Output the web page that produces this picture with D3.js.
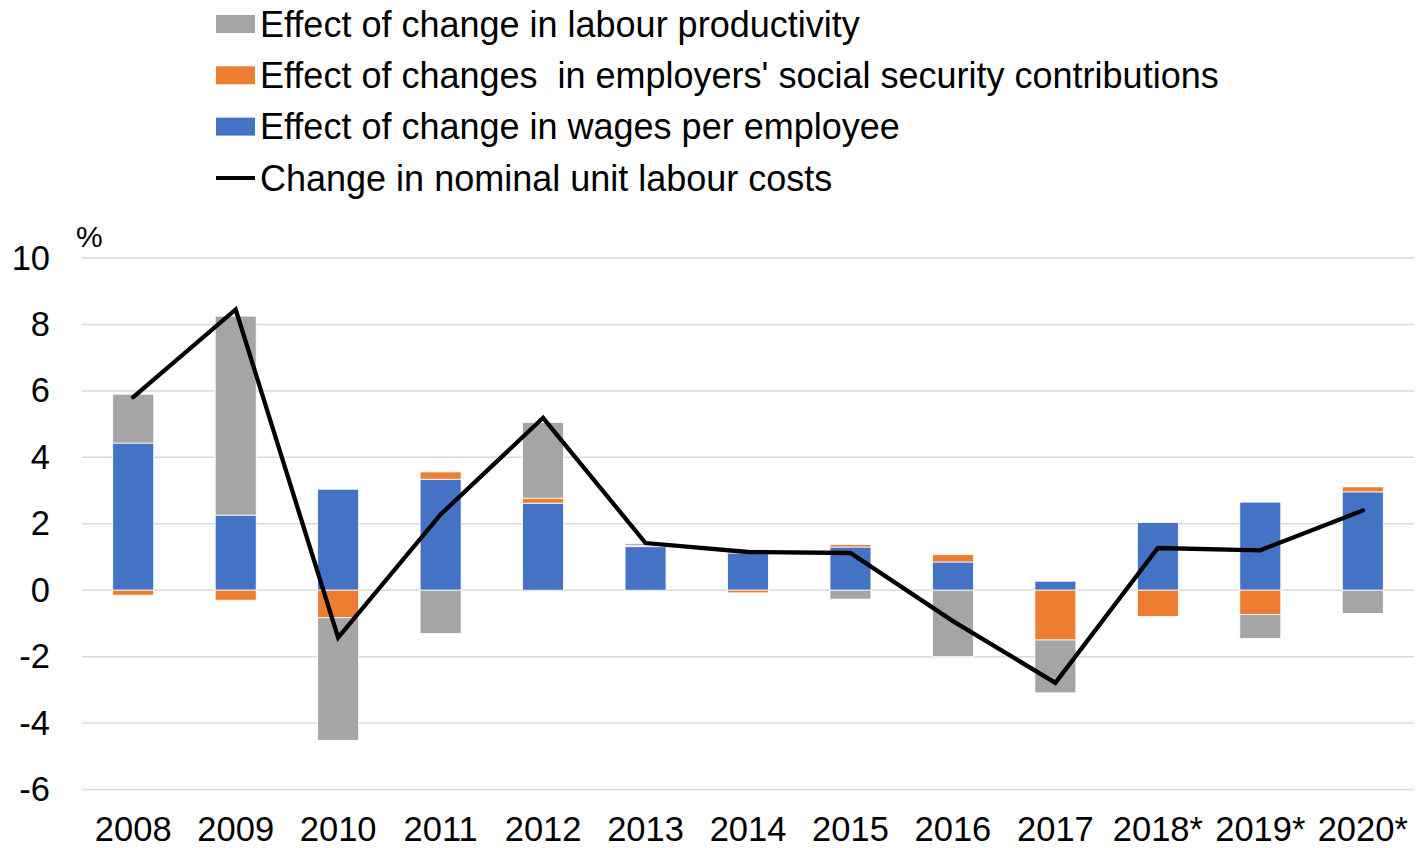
<!DOCTYPE html>
<html>
<head>
<meta charset="utf-8">
<script src="https://cdn.jsdelivr.net/npm/d3@7"></script>
<style>
  body { margin: 0; background: #fff; }
  svg text { font-family: "Liberation Sans", Arial, sans-serif; fill: #000; }
</style>
</head>
<body>
<svg id="chart" width="1416" height="848"></svg>
<script>
// chart data
const years = ["2008", "2009", "2010", "2011", "2012", "2013", "2014", "2015", "2016", "2017", "2018*", "2019*", "2020*"];
const wages = [4.43, 2.26, 3.04, 3.34, 2.62, 1.31, 1.12, 1.30, 0.85, 0.27, 2.04, 2.65, 2.96];
const socialSecurity = [-0.15, -0.30, -0.83, 0.22, 0.15, 0.03, -0.08, 0.07, 0.22, -1.50, -0.79, -0.73, 0.15];
const productivity = [1.47, 5.99, -3.69, -1.30, 2.28, 0.06, 0.10, -0.27, -2.00, -1.59, 0.00, -0.72, -0.70];
const unitLabourCosts = [5.81, 8.45, -1.43, 2.28, 5.19, 1.42, 1.15, 1.12, -0.93, -2.79, 1.27, 1.20, 2.40];
const yTicks = [-6, -4, -2, 0, 2, 4, 6, 8, 10];

const seriesKeys = ["wages", "ssc", "prod"];
const colors = { wages: "#4472c4", ssc: "#ed7d31", prod: "#a5a5a5" };
const legendItems = [
  { label: "Effect of change in labour productivity", type: "rect", color: colors.prod },
  { label: "Effect of changes  in employers' social security contributions", type: "rect", color: colors.ssc },
  { label: "Effect of change in wages per employee", type: "rect", color: colors.wages },
  { label: "Change in nominal unit labour costs", type: "line", color: "#000" }
];

const svg = d3.select("#chart");
const margin = { l: 82, r: 2 };
const W = 1416;
const axisFont = 34.5, legendFont = 36;

const rows = years.map((y, i) => ({ year: y, wages: wages[i], ssc: socialSecurity[i], prod: productivity[i] }));

const x = d3.scaleBand().domain(years).range([margin.l, W - margin.r]).paddingInner(0.6).paddingOuter(0.3);
const y = d3.scaleLinear().domain([-6, 10]).range([789.5, 258]);

// gridlines
svg.append("g").selectAll("line").data(yTicks).enter().append("line")
  .attr("x1", margin.l).attr("x2", W - margin.r)
  .attr("y1", d => y(d)).attr("y2", d => y(d))
  .attr("stroke", "#d9d9d9").attr("stroke-width", 1.5);

// y axis labels (plain hyphen for minus, like the original)
const yAxis = svg.append("g").attr("transform", "translate(50,0)")
  .call(d3.axisLeft(y).tickValues(yTicks).tickSize(0).tickPadding(0).tickFormat(d => String(d)));
yAxis.select(".domain").remove();
yAxis.selectAll("text").attr("font-size", axisFont).attr("font-family", "Liberation Sans, Arial, sans-serif").attr("fill", "#000");

svg.append("text").attr("x", 76).attr("y", 247).attr("font-size", 30).text("%");

// x axis labels
const xAxis = svg.append("g").attr("transform", "translate(0,841)")
  .call(d3.axisBottom(x).tickSize(0).tickPadding(0));
xAxis.select(".domain").remove();
xAxis.selectAll("text").attr("font-size", axisFont).attr("font-family", "Liberation Sans, Arial, sans-serif").attr("fill", "#000").attr("dy", "0");

// stacked bars (diverging so negatives go below zero)
const stack = d3.stack().keys(seriesKeys).offset(d3.stackOffsetDiverging);
const stacked = stack(rows);

svg.append("g").selectAll("g").data(stacked).enter().append("g")
  .attr("fill", d => colors[d.key])
  .selectAll("rect").data(d => d).enter().append("rect")
  .attr("x", d => x(d.data.year))
  .attr("width", x.bandwidth())
  .attr("y", d => y(Math.max(d[0], d[1])))
  .attr("height", d => Math.abs(y(d[0]) - y(d[1])))
  .attr("stroke", "#fff").attr("stroke-width", 0.8);

// unit labour cost line
const line = d3.line()
  .x((d, i) => x(years[i]) + x.bandwidth() / 2)
  .y(d => y(d));
svg.append("path").datum(unitLabourCosts)
  .attr("d", line)
  .attr("fill", "none").attr("stroke", "#000").attr("stroke-width", 4.3)
  .attr("stroke-linejoin", "miter").attr("stroke-linecap", "round");

// legend
const leg = svg.append("g");
const legRow = leg.selectAll("g").data(legendItems).enter().append("g")
  .attr("transform", (d, i) => "translate(216," + (24 + i * 51.3) + ")");
legRow.filter(d => d.type === "rect").append("rect")
  .attr("x", 0).attr("y", -9).attr("width", 39).attr("height", 18)
  .attr("fill", d => d.color);
legRow.filter(d => d.type === "line").append("line")
  .attr("x1", 0).attr("x2", 39).attr("y1", 0).attr("y2", 0)
  .attr("stroke", d => d.color).attr("stroke-width", 4);
legRow.append("text").attr("x", 44).attr("y", 0).attr("dy", "0.35em")
  .attr("font-size", legendFont).style("white-space", "pre")
  .text(d => d.label);
</script>
</body>
</html>
